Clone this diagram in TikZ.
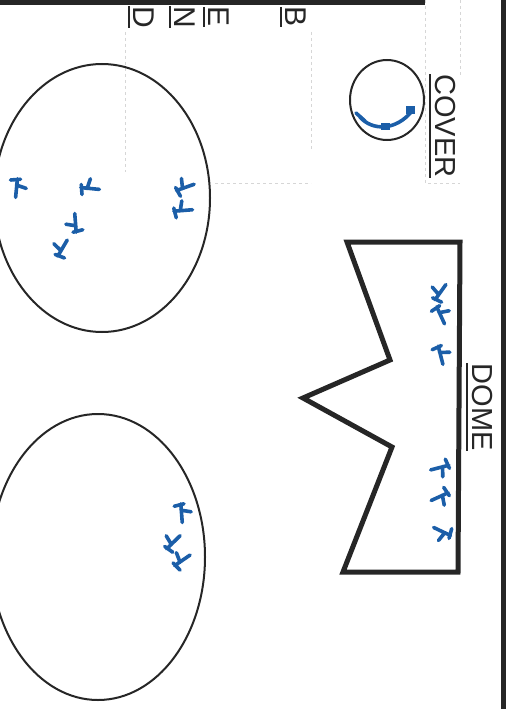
\documentclass[tikz,border=0pt]{standalone}
\usepackage{fontspec}
\setsansfont{Liberation Sans}
\usetikzlibrary{calc}
\definecolor{ink}{HTML}{262626}
\definecolor{penblue}{HTML}{1B5EA8}
\definecolor{guidegray}{HTML}{D6D6D6}
\tikzset{
  wall/.style={draw=ink,line width=5pt},
  dome outline/.style={draw=ink,line width=5pt,line join=miter},
  bowl/.style={draw=ink,line width=2pt},
  guide/.style={draw=guidegray,line width=1pt,dashed},
  pen/.style={draw=penblue,line width=3.6pt,line cap=round,line join=round},
  label text/.style={
    font=\sffamily\fontsize{29}{30}\selectfont,
    text=ink,
    inner sep=0pt,
    rotate=-90,
    anchor=base
  },
  letter text/.style={label text,font=\sffamily\fontsize{30}{31}\selectfont},
  underline rule/.style={draw=ink,line width=2pt}
}
\newcommand{\penMark}[3]{%
  \draw[pen,shift={(#1,#2)},rotate=#3]
    (2,-9) -- (-3,9) (0,-3) -- (9,2) (-5,-9) -- (5,-8);%
}

\begin{document}
\begin{tikzpicture}[x=1pt,y=-1pt]
  \useasboundingbox (0,0) rectangle (508,709);

  \draw[guide] (125,32) -- (125,172);
  \draw[guide] (311,32) -- (311,150);
  \draw[guide] (215,183) -- (311,183);
  \draw[guide] (425,0) -- (425,183) -- (460,183);
  \draw[guide] (460,0) -- (460,75);

  \draw[wall] (0,2.5) -- (425,2.5);
  \draw[wall] (503,0) -- (503,709);

  \node[letter text] (letterB) at (285,17) {B};
  \node[letter text] (letterE) at (208,17) {E};
  \node[letter text] (letterN) at (174,17) {N};
  \node[letter text] (letterD) at (133,17) {D};
  \foreach \l in {letterB,letterE,letterN,letterD}
    \draw[underline rule] ([xshift=-4pt]\l.base west) -- ([xshift=-4pt]\l.base east);

  \node[label text] (cover) at (435,126) {COVER};
  \draw[underline rule] ([xshift=-5pt]cover.base west) -- ([xshift=-5pt]cover.base east);
  \node[label text] (dome) at (472,407) {DOME};
  \draw[underline rule] ([xshift=-5pt]dome.base west) -- ([xshift=-5pt]dome.base east);

  \draw[bowl] (387,100) ellipse [x radius=37, y radius=40];
  \draw[pen] (360,117) .. controls (372,131) and (396,131) .. (412,111);
  \draw[pen] (356,113) -- (365,121);
  \fill[penblue] (381,123) rectangle (390,130);
  \fill[penblue] (406,106) rectangle (415,114);

  \draw[dome outline] (347,242) -- (460,242) -- (458,572) -- (343,572)
    -- (392,447) -- (303,398) -- (390,360) -- cycle;

  \draw[bowl] (102,198) ellipse [x radius=108, y radius=134];
  \draw[bowl] (98,557) ellipse [x radius=107, y radius=143];

  \penMark{17}{188}{10}
  \penMark{90}{188}{100}
  \penMark{75}{223}{200}
  \penMark{62}{248}{165}
  \penMark{185}{187}{125}
  \penMark{183}{210}{110}
  \penMark{182}{513}{20}
  \penMark{173}{542}{150}
  \penMark{182}{560}{140}
  \penMark{440}{292}{160}
  \penMark{441}{315}{40}
  \penMark{441}{355}{30}
  \penMark{440}{468}{-60}
  \penMark{440}{497}{-50}
  \penMark{442}{532}{-100}
\end{tikzpicture}
\end{document}
